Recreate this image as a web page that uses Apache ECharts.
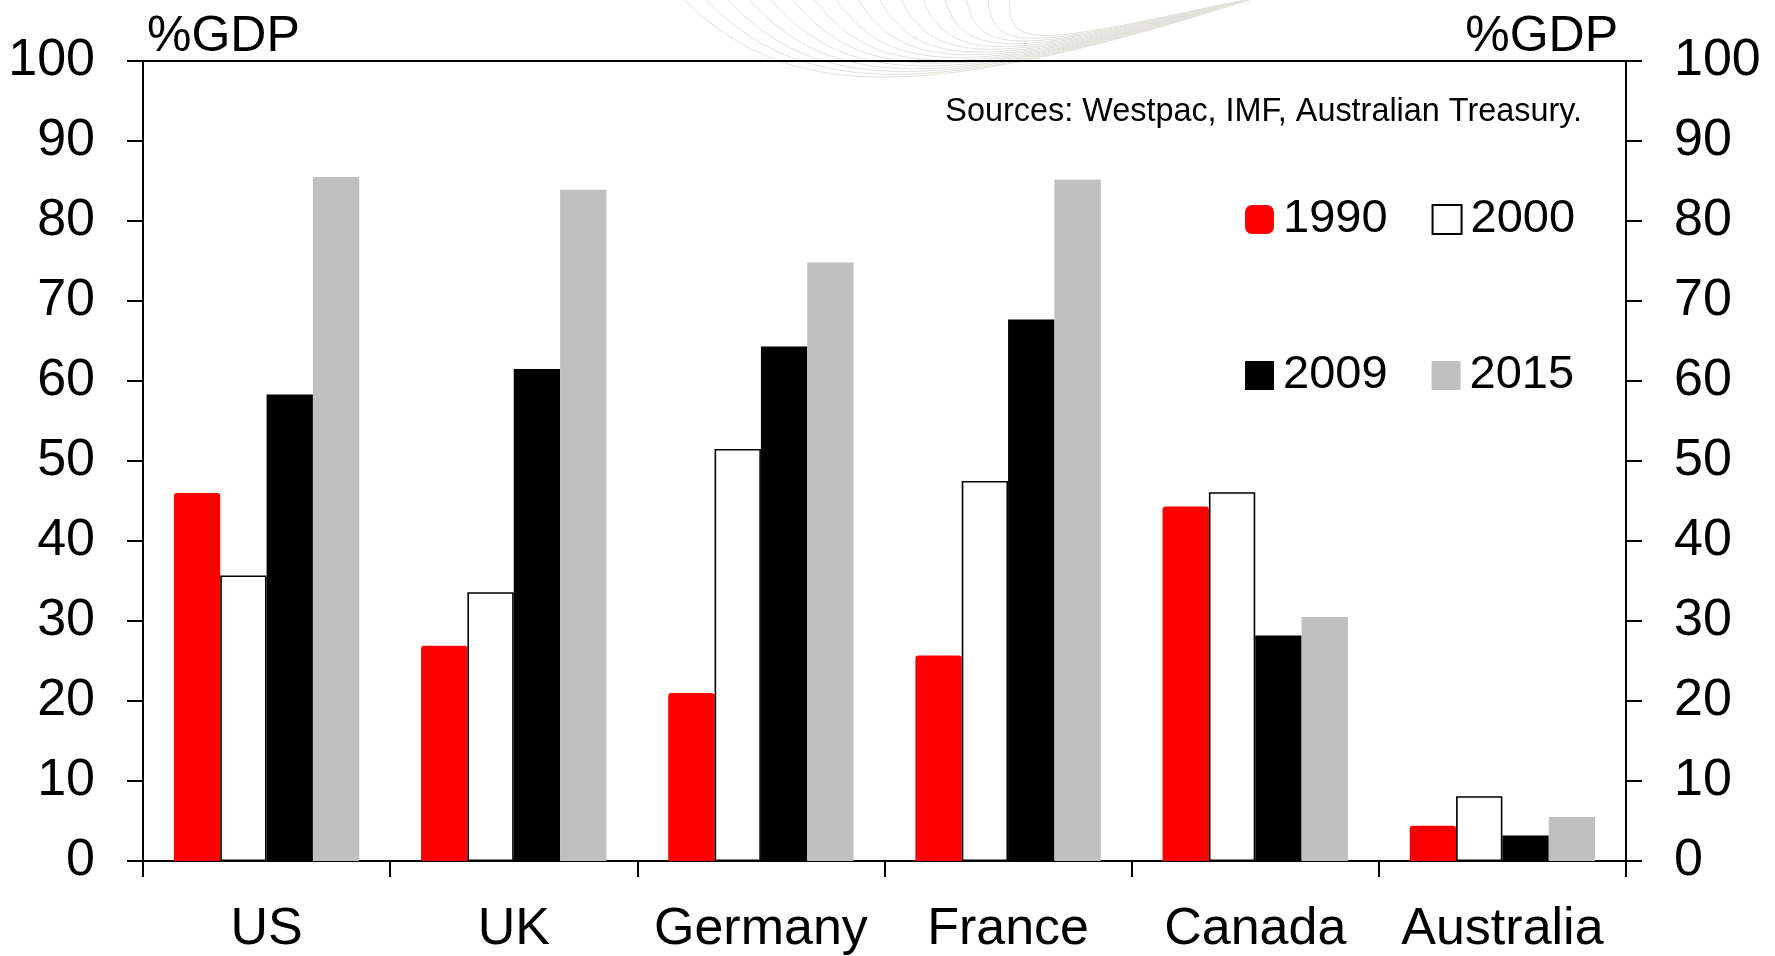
<!DOCTYPE html>
<html>
<head>
<meta charset="utf-8">
<script src="https://cdn.jsdelivr.net/npm/echarts@6/dist/echarts.min.js"></script>
<style>
  html, body { margin: 0; padding: 0; background: #fff; }
  #chart { width: 1775px; height: 956px; }
</style>
</head>
<body>
<div id="chart"></div>
<script>
// Household debt by country, % of GDP
const countries = ['US', 'UK', 'Germany', 'France', 'Canada', 'Australia'];
const years = ['1990', '2000', '2009', '2015'];
const v1990 = [46.0, 26.9, 21.0, 25.7, 44.3, 4.4];
const v2000 = [35.7, 33.6, 51.5, 47.5, 46.1, 8.1];
const v2009 = [58.3, 61.5, 64.3, 67.7, 28.2, 3.2];
const v2015 = [85.5, 83.9, 74.8, 85.2, 30.5, 5.5];
const yTicks = { min: 0, max: 100, interval: 10 };
const sourceNote = 'Sources: Westpac, IMF, Australian Treasury.';

const FONT = "'Liberation Sans', Arial, sans-serif";

const chart = echarts.init(document.getElementById('chart'), null, { renderer: 'canvas' });

// faint decorative swoosh lines at the top of the canvas
const swoosh = [];
for (let i = 0; i < 16; i++) {
  swoosh.push({
    type: 'bezierCurve',
    z: -10,
    silent: true,
    shape: {
      x1: 680 + i * 22, y1: -4,
      cpx1: 780 + i * 15, cpy1: 95 - i * 3,
      cpx2: 900 + i * 9, cpy2: 112 - i * 4.5,
      x2: 1255 - i * 2, y2: -2 + i * 0.4
    },
    style: { stroke: '#e2e2da', lineWidth: 1, fill: null }
  });
}

const axisLineStyle = { color: '#000', width: 2 };

function yAxisDef(position, nameAlign) {
  return {
    type: 'value',
    position: position,
    min: yTicks.min,
    max: yTicks.max,
    interval: yTicks.interval,
    name: '%GDP',
    nameLocation: 'end',
    nameGap: -1,
    nameTextStyle: {
      fontFamily: FONT, fontSize: 50, color: '#000', align: nameAlign,
      padding: nameAlign === 'left' ? [0, 0, 0, 4] : [0, 8, 0, 0]
    },
    axisLine: { show: true, lineStyle: axisLineStyle },
    axisTick: { show: true, inside: false, length: 16, lineStyle: axisLineStyle },
    axisLabel: { fontFamily: FONT, fontSize: 52, color: '#000', margin: 48 },
    splitLine: { show: false }
  };
}

function barSeries(name, data, style) {
  return {
    name: name,
    type: 'bar',
    data: data,
    barGap: '0%',
    barCategoryGap: '25%',
    itemStyle: style,
    emphasis: { disabled: true }
  };
}

const legendText = { fontFamily: FONT, fontSize: 47, color: '#000', padding: [0, 0, 0, 4] };

chart.setOption({
  animation: false,
  backgroundColor: '#fff',
  textStyle: { fontFamily: FONT },
  graphic: swoosh,
  title: {
    text: sourceNote,
    right: 188,
    top: 91,
    textStyle: { fontFamily: FONT, fontSize: 32.4, fontWeight: 'normal', color: '#000' }
  },
  legend: [
    {
      data: [{ name: '1990', icon: 'roundRect' }, { name: '2000', icon: 'rect' }],
      left: 1240, top: 191,
      itemWidth: 29, itemHeight: 29, itemGap: 44,
      selectedMode: false,
      textStyle: legendText
    },
    {
      data: [{ name: '2009', icon: 'rect' }, { name: '2015', icon: 'rect' }],
      left: 1240, top: 347,
      itemWidth: 29, itemHeight: 29, itemGap: 44,
      selectedMode: false,
      textStyle: legendText
    }
  ],
  grid: { left: 143, right: 149, top: 61, bottom: 93, containLabel: false },
  xAxis: [
    {
      type: 'category',
      data: countries,
      position: 'bottom',
      axisLine: { show: true, lineStyle: axisLineStyle },
      axisTick: { show: true, length: 16, lineStyle: axisLineStyle },
      axisLabel: { fontFamily: FONT, fontSize: 52, color: '#000', margin: 43, interval: 0 },
      splitLine: { show: false }
    },
    {
      // plain frame line along the top of the plot
      type: 'category',
      data: countries,
      position: 'top',
      axisLine: { show: true, onZero: false, lineStyle: axisLineStyle },
      axisTick: { show: false },
      axisLabel: { show: false },
      splitLine: { show: false }
    }
  ],
  yAxis: [yAxisDef('left', 'left'), yAxisDef('right', 'right')],
  series: [
    barSeries(years[0], v1990, { color: '#ff0000', borderRadius: [3, 3, 0, 0] }),
    barSeries(years[1], v2000, { color: '#ffffff', borderColor: '#000', borderWidth: 1.6 }),
    barSeries(years[2], v2009, { color: '#000000' }),
    barSeries(years[3], v2015, { color: '#c0c0c0' })
  ]
});
</script>
</body>
</html>
